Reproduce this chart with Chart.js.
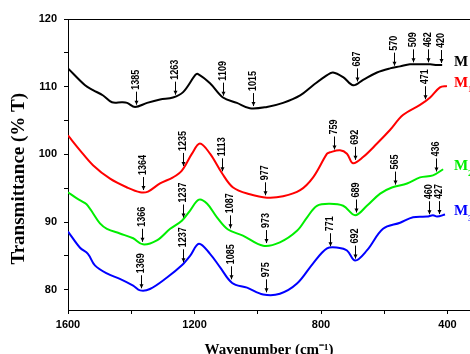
<!DOCTYPE html>
<html>
<head>
<meta charset="utf-8">
<script src="https://cdn.jsdelivr.net/npm/chart.js@4.4.1/dist/chart.umd.min.js"></script>
<style>
  html, body { margin: 0; padding: 0; background: #fff; overflow: hidden; }
</style>
</head>
<body>
<canvas id="ftir" width="470" height="354"></canvas>
<script>
// series names and colours
const seriesNames = ['M', 'M1', 'M2', 'M3'];
const seriesColors = ['#000000', '#ff0000', '#00ee00', '#0000ff'];

// wavenumber (cm-1) / transmittance (%T)
const mX = [1600, 1546, 1521, 1489, 1461, 1429, 1413, 1388, 1350, 1309, 1268, 1236, 1198, 1190, 1151, 1110, 1066, 1025, 971, 920, 866, 825, 781, 762, 730, 698, 667, 623, 582, 550, 519, 481, 455, 433, 417];
const mY = [112.7, 110.2, 109.5, 108.7, 107.7, 107.7, 107.6, 107.0, 107.6, 108.1, 108.4, 109.2, 111.7, 111.9, 110.5, 108.4, 107.6, 106.8, 107.0, 107.6, 108.7, 110.2, 111.7, 112.1, 111.4, 110.2, 111.0, 112.1, 112.7, 113.0, 113.3, 113.3, 113.3, 113.2, 113.2];

const m1X = [1600, 1562, 1521, 1467, 1413, 1372, 1347, 1309, 1268, 1240, 1208, 1183, 1151, 1113, 1078, 1025, 971, 920, 866, 825, 781, 772, 740, 718, 699, 667, 623, 582, 541, 487, 455, 424, 402];
const m1Y = [102.8, 100.6, 98.4, 96.4, 95.1, 94.4, 94.5, 95.7, 96.6, 97.6, 100.1, 101.6, 100.1, 97.2, 95.1, 94.1, 93.6, 93.8, 94.7, 96.6, 100.1, 100.3, 100.6, 100.1, 98.7, 99.6, 101.6, 103.6, 105.8, 107.3, 108.4, 109.9, 110.1];

const m2X = [1600, 1572, 1546, 1537, 1521, 1499, 1477, 1436, 1394, 1363, 1319, 1277, 1240, 1214, 1186, 1160, 1129, 1094, 1047, 983, 930, 876, 844, 813, 772, 730, 692, 655, 613, 576, 528, 487, 446, 414];
const m2Y = [94.4, 93.5, 92.8, 92.4, 91.3, 89.8, 89.0, 88.3, 87.6, 86.7, 87.3, 89.0, 90.2, 91.7, 93.3, 92.7, 90.7, 88.9, 88.0, 86.5, 87.0, 88.7, 90.7, 92.4, 92.7, 92.4, 91.0, 92.4, 94.2, 95.1, 95.7, 96.6, 96.9, 97.8];

const m3X = [1600, 1562, 1537, 1515, 1477, 1436, 1394, 1372, 1341, 1287, 1240, 1214, 1186, 1151, 1119, 1081, 1034, 983, 930, 876, 825, 781, 746, 718, 692, 655, 604, 550, 509, 465, 446, 433, 408];
const m3Y = [88.6, 86.2, 85.3, 83.6, 82.4, 81.6, 80.6, 79.9, 80.1, 81.8, 83.6, 85.0, 86.8, 85.3, 83.3, 81.0, 80.3, 79.3, 79.4, 80.9, 83.9, 86.1, 86.2, 85.8, 84.3, 85.8, 89.0, 89.9, 90.7, 90.8, 91.0, 90.8, 91.1];

// labelled band positions per series
const mPeaks = [1385, 1263, 1109, 1015, 687, 570, 509, 462, 420];
const m1Peaks = [1364, 1235, 1113, 977, 759, 692, 471];
const m2Peaks = [1366, 1237, 1087, 973, 689, 565, 436];
const m3Peaks = [1369, 1237, 1085, 975, 771, 692, 460, 427];

// tick values
const xTicks = [1600, 1400, 1200, 1000, 800, 600, 400];
const yTicks = [80, 85, 90, 95, 100, 105, 110, 115, 120];

const allX = [mX, m1X, m2X, m3X];
const allY = [mY, m1Y, m2Y, m3Y];
const allPeaks = [mPeaks, m1Peaks, m2Peaks, m3Peaks];

function toPoints(xs, ys) {
  return xs.map((x, i) => ({ x: x, y: ys[i] }));
}

// value of a series at wavenumber w (linear between read points)
function valueAt(pts, w) {
  for (let i = 0; i < pts.length - 1; i++) {
    const a = pts[i], b = pts[i + 1];
    if ((w <= a.x && w >= b.x) || (w >= a.x && w <= b.x)) {
      const t = (w - a.x) / (b.x - a.x);
      return a.y + t * (b.y - a.y);
    }
  }
  return pts[pts.length - 1].y;
}

const peakLabels = {
  id: 'peakLabels',
  afterDatasetsDraw(chart) {
    const ctx = chart.ctx;
    const x = chart.scales.x, y = chart.scales.y;
    const area = chart.chartArea;
    ctx.save();

    // top frame line
    ctx.strokeStyle = '#000';
    ctx.lineWidth = 1;
    ctx.beginPath();
    ctx.moveTo(area.left, area.top + 0.5);
    ctx.lineTo(area.right, area.top + 0.5);
    ctx.stroke();

    ctx.fillStyle = '#000';
    chart.data.datasets.forEach((ds, i) => {
      allPeaks[i].forEach(p => {
        const px = Math.round(x.getPixelForValue(p)) + 0.5;
        const py = y.getPixelForValue(valueAt(ds.data, p)) - 2;
        ctx.beginPath();
        ctx.moveTo(px, py - 13);
        ctx.lineTo(px, py);
        ctx.stroke();
        ctx.beginPath();
        ctx.moveTo(px - 2, py - 4);
        ctx.lineTo(px, py);
        ctx.lineTo(px + 2, py - 4);
        ctx.closePath();
        ctx.fill();
        ctx.save();
        ctx.translate(px, py - 15);
        ctx.rotate(-Math.PI / 2);
        ctx.scale(0.9, 1);
        ctx.font = 'bold 10px "Liberation Sans", Arial, sans-serif';
        ctx.textAlign = 'left';
        ctx.textBaseline = 'middle';
        ctx.fillText(String(p), 0, 0);
        ctx.restore();
      });

      // series name next to line end
      const last = ds.data[ds.data.length - 1];
      const ly = y.getPixelForValue(last.y) - 3;
      const lx = area.right - 16;
      const name = seriesNames[i];
      ctx.fillStyle = seriesColors[i];
      ctx.textAlign = 'left';
      ctx.textBaseline = 'middle';
      ctx.font = 'bold 15px "Liberation Serif", "Times New Roman", serif';
      ctx.fillText(name.charAt(0), lx, ly);
      if (name.length > 1) {
        ctx.font = 'bold 9px "Liberation Serif", "Times New Roman", serif';
        ctx.fillText(name.slice(1), lx + 14, ly + 7);
      }
      ctx.fillStyle = '#000';
    });
    ctx.restore();
  }
};

const tickFont = { family: '"Liberation Sans", Arial, sans-serif', size: 11, weight: 'bold' };

new Chart(document.getElementById('ftir'), {
  type: 'line',
  data: {
    datasets: seriesNames.map((name, i) => ({
      label: name,
      data: toPoints(allX[i], allY[i]),
      borderColor: seriesColors[i],
      borderWidth: 2,
      pointRadius: 0,
      tension: 0.35,
      fill: false
    }))
  },
  options: {
    responsive: false,
    animation: false,
    devicePixelRatio: 1,
    layout: { padding: { top: 19, right: 0, left: 0, bottom: 0 } },
    plugins: {
      legend: { display: false },
      tooltip: { enabled: false }
    },
    scales: {
      x: {
        type: 'linear',
        reverse: true,
        min: 329,
        max: 1600,
        afterBuildTicks: s => { s.ticks = xTicks.map(v => ({ value: v })); },
        afterFit: s => { s.height = 44; },
        ticks: {
          autoSkip: false,
          maxRotation: 0,
          padding: 4,
          color: '#000',
          font: tickFont,
          callback: v => (v % 400 === 0 ? v : '')
        },
        grid: { drawOnChartArea: false, tickLength: 4, tickColor: '#000' },
        border: { color: '#000', width: 1 },
        title: {
          display: true,
          text: 'Wavenumber (cm⁻¹)',
          color: '#000',
          padding: 0,
          font: { family: '"Liberation Serif", "Times New Roman", serif', size: 15, weight: 'bold', lineHeight: 0.53 }
        }
      },
      y: {
        min: 77,
        max: 120,
        afterBuildTicks: s => { s.ticks = yTicks.map(v => ({ value: v })); },
        afterFit: s => { s.width = 68; },
        ticks: {
          padding: 7,
          color: '#000',
          font: tickFont,
          callback: v => (v % 10 === 0 ? v : '')
        },
        grid: { drawOnChartArea: false, tickLength: 4, tickColor: '#000' },
        border: { color: '#000', width: 1 },
        title: {
          display: true,
          text: 'Transmittance (% T)      ',
          color: '#000',
          padding: { top: 8, bottom: 0 },
          font: { family: '"Liberation Serif", "Times New Roman", serif', size: 19, weight: 'bold' }
        }
      }
    }
  },
  plugins: [peakLabels]
});
</script>
</body>
</html>
